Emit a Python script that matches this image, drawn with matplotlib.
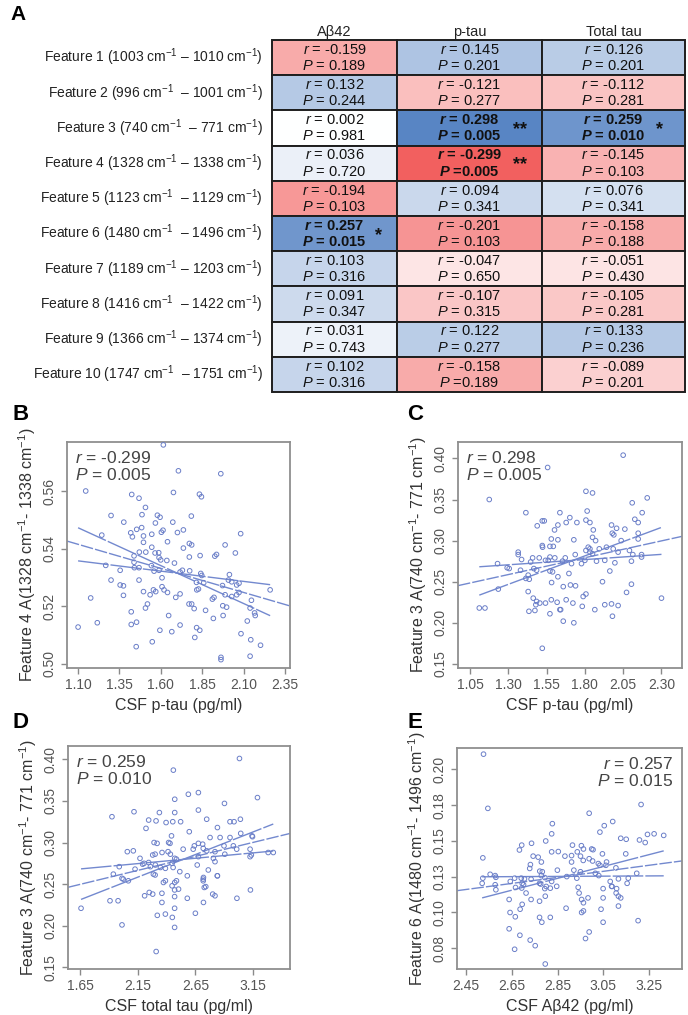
import numpy as np
import matplotlib.pyplot as plt
from matplotlib import font_manager
from matplotlib.colors import LinearSegmentedColormap, Normalize
from matplotlib.patches import Rectangle

plt.rcParams['font.family'] = ['Liberation Sans', 'DejaVu Sans']
plt.rcParams['mathtext.fontset'] = 'custom'
plt.rcParams['mathtext.rm'] = 'Liberation Sans'
plt.rcParams['mathtext.it'] = 'Liberation Sans:italic'
plt.rcParams['mathtext.bf'] = 'Liberation Sans:italic:bold'

names = {f.name for f in font_manager.fontManager.ttflist}
tab_font = 'Liberation Sans Narrow' if 'Liberation Sans Narrow' in names else 'Liberation Sans'

# ---------------- table data (panel A) ----------------
markers = ['Aβ42', 'p-tau', 'Total tau']
features = [
    'Feature 1 (1003 cm$^{-1}$ – 1010 cm$^{-1}$)',
    'Feature 2 (996 cm$^{-1}$  – 1001 cm$^{-1}$)',
    'Feature 3 (740 cm$^{-1}$  – 771 cm$^{-1}$)',
    'Feature 4 (1328 cm$^{-1}$ – 1338 cm$^{-1}$)',
    'Feature 5 (1123 cm$^{-1}$  – 1129 cm$^{-1}$)',
    'Feature 6 (1480 cm$^{-1}$  – 1496 cm$^{-1}$)',
    'Feature 7 (1189 cm$^{-1}$ – 1203 cm$^{-1}$)',
    'Feature 8 (1416 cm$^{-1}$  – 1422 cm$^{-1}$)',
    'Feature 9 (1366 cm$^{-1}$ – 1374 cm$^{-1}$)',
    'Feature 10 (1747 cm$^{-1}$  – 1751 cm$^{-1}$)',
]
r_vals = np.array([
    [-0.159, 0.145, 0.126],
    [0.132, -0.121, -0.112],
    [0.002, 0.298, 0.259],
    [0.036, -0.299, -0.145],
    [-0.194, 0.094, 0.076],
    [0.257, -0.201, -0.158],
    [0.103, -0.047, -0.051],
    [0.091, -0.107, -0.105],
    [0.031, 0.122, 0.133],
    [0.102, -0.158, -0.089],
])
p_text = [
    ['= 0.189', '= 0.201', '= 0.201'],
    ['= 0.244', '= 0.277', '= 0.281'],
    ['= 0.981', '= 0.005', '= 0.010'],
    ['= 0.720', '=0.005', '= 0.103'],
    ['= 0.103', '= 0.341', '= 0.341'],
    ['= 0.015', '= 0.103', '= 0.188'],
    ['= 0.316', '= 0.650', '= 0.430'],
    ['= 0.347', '= 0.315', '= 0.281'],
    ['= 0.743', '= 0.277', '= 0.236'],
    ['= 0.316', '=0.189', '= 0.201'],
]
stars = [
    ['', '', ''], ['', '', ''], ['', '**', '*'], ['', '**', ''], ['', '', ''],
    ['*', '', ''], ['', '', ''], ['', '', ''], ['', '', ''], ['', '', ''],
]

# ---------------- scatter data (panels B-E) ----------------
pts_b = np.array([
    [1.615, 0.576], [1.706, 0.567], [1.962, 0.566], [1.146, 0.560], [1.676, 0.5595],
    [1.424, 0.5588], [1.468, 0.5575], [1.833, 0.5589], [1.845, 0.5580], [1.507, 0.5543],
    [1.299, 0.5515], [1.486, 0.5518], [1.579, 0.5516], [1.595, 0.5509], [1.784, 0.5513],
    [1.376, 0.5492], [1.567, 0.5489], [1.672, 0.5492], [1.454, 0.5467], [1.484, 0.5473],
    [1.603, 0.5457], [1.613, 0.5464], [1.700, 0.5456], [1.736, 0.5465], [1.418, 0.5455],
    [1.428, 0.5441], [1.243, 0.5447], [1.495, 0.5444], [1.545, 0.5450], [2.082, 0.5452],
    [1.640, 0.5424], [1.495, 0.5422], [1.772, 0.5418], [1.786, 0.5413], [1.545, 0.5405],
    [1.736, 0.5402], [1.988, 0.5413], [1.470, 0.5388], [1.438, 0.5375], [1.509, 0.5388],
    [1.565, 0.5385], [1.587, 0.5386], [1.772, 0.5371], [1.837, 0.5376], [1.926, 0.5374],
    [1.936, 0.5380], [2.050, 0.5385], [1.636, 0.5359], [1.682, 0.5350], [1.589, 0.5369],
    [1.599, 0.5361], [1.438, 0.5353], [1.267, 0.5342], [1.543, 0.5341], [1.440, 0.5334],
    [1.468, 0.5334], [1.354, 0.5325], [1.559, 0.5322], [1.589, 0.5325], [1.716, 0.5319],
    [1.730, 0.5325], [1.774, 0.5323], [1.841, 0.5314], [1.847, 0.5307], [1.607, 0.5299],
    [2.014, 0.5310], [1.299, 0.5291], [1.468, 0.5291], [1.815, 0.5283], [1.859, 0.5282],
    [2.008, 0.5291], [2.028, 0.5285], [2.058, 0.5274], [2.072, 0.5280], [1.354, 0.5274],
    [1.374, 0.5271], [1.607, 0.5268], [1.619, 0.5257], [1.972, 0.5272], [2.260, 0.5257],
    [1.495, 0.5251], [1.555, 0.5257], [1.569, 0.5251], [1.640, 0.5248], [1.817, 0.5257],
    [1.827, 0.5260], [1.374, 0.5238], [1.535, 0.5240], [1.690, 0.5231], [1.716, 0.5243],
    [1.911, 0.5225], [1.921, 0.5231], [1.988, 0.5240], [2.028, 0.5234], [2.058, 0.5240],
    [2.072, 0.5248], [2.147, 0.5221], [1.176, 0.5229], [1.519, 0.5208], [1.770, 0.5208],
    [1.786, 0.5208], [1.974, 0.5202], [1.100, 0.5128], [1.216, 0.5143], [1.421, 0.5181],
    [1.421, 0.5137], [1.453, 0.5145], [1.507, 0.5194], [1.451, 0.5060], [1.548, 0.5077],
    [1.594, 0.5117], [1.647, 0.5168], [1.666, 0.5112], [1.716, 0.5135], [1.801, 0.5192],
    [1.805, 0.5092], [1.816, 0.5126], [1.835, 0.5117], [1.870, 0.5186], [1.917, 0.5158],
    [1.997, 0.5197], [1.976, 0.5168], [1.963, 0.5023], [1.963, 0.5015], [2.084, 0.5105],
    [2.122, 0.5149], [2.139, 0.5194], [2.166, 0.5177], [2.170, 0.5168], [2.143, 0.5084],
    [2.139, 0.5027], [2.202, 0.5065],
])
pts_c = np.array([
    [2.050, 0.404], [1.557, 0.389], [1.176, 0.350], [1.807, 0.360], [1.850, 0.358],
    [2.207, 0.352], [2.109, 0.346], [1.415, 0.334], [1.637, 0.334], [1.815, 0.336],
    [2.174, 0.334], [1.702, 0.328], [2.126, 0.326], [2.148, 0.322], [1.522, 0.324],
    [1.535, 0.324], [1.489, 0.318], [1.624, 0.319], [1.678, 0.322], [1.748, 0.322],
    [1.807, 0.325], [1.833, 0.322], [1.974, 0.319], [2.007, 0.315], [2.061, 0.314],
    [1.602, 0.313], [1.855, 0.313], [1.979, 0.309], [1.989, 0.307], [2.148, 0.309],
    [1.581, 0.302], [1.624, 0.301], [1.728, 0.301], [1.850, 0.304], [1.870, 0.300],
    [1.522, 0.294], [1.524, 0.292], [1.572, 0.293], [1.594, 0.293], [2.148, 0.302],
    [1.822, 0.292], [1.833, 0.290], [1.941, 0.292], [2.037, 0.300], [1.894, 0.290],
    [1.365, 0.286], [1.365, 0.283], [1.572, 0.280], [1.604, 0.279], [1.672, 0.279],
    [1.737, 0.283], [1.807, 0.288], [1.833, 0.286], [1.850, 0.284], [1.985, 0.290],
    [2.017, 0.286], [2.091, 0.288], [2.113, 0.283], [2.170, 0.283], [2.170, 0.280],
    [1.230, 0.272], [1.293, 0.267], [1.306, 0.266], [1.387, 0.277], [1.459, 0.279],
    [1.446, 0.274], [1.502, 0.279], [1.543, 0.276], [1.561, 0.276], [1.654, 0.275],
    [1.713, 0.272], [1.778, 0.272], [1.800, 0.276], [1.876, 0.275], [1.930, 0.276],
    [1.996, 0.273], [2.104, 0.275], [1.430, 0.258], [1.467, 0.266], [1.485, 0.264],
    [1.415, 0.254], [1.437, 0.253], [1.572, 0.263], [1.589, 0.262], [1.696, 0.260],
    [1.963, 0.263], [1.380, 0.264], [1.235, 0.241], [1.583, 0.249], [1.624, 0.256],
    [1.659, 0.244], [1.706, 0.246], [1.739, 0.245], [1.789, 0.232], [1.807, 0.235],
    [1.915, 0.250], [2.104, 0.247], [2.072, 0.237], [2.300, 0.230], [1.430, 0.238],
    [1.463, 0.230], [1.485, 0.226], [1.506, 0.224], [1.543, 0.224], [1.581, 0.228],
    [1.619, 0.225], [1.678, 0.228], [1.722, 0.224], [1.783, 0.220], [1.865, 0.216],
    [1.930, 0.222], [2.017, 0.221], [1.111, 0.218], [1.148, 0.218], [1.474, 0.215],
    [1.980, 0.208], [1.435, 0.214], [1.480, 0.222], [1.572, 0.211], [1.637, 0.216],
    [1.642, 0.216], [1.659, 0.202], [1.728, 0.200], [1.522, 0.169], [1.974, 0.223],
])
pts_d = np.array([
    [3.032, 0.401], [2.459, 0.387], [2.589, 0.358], [2.676, 0.360], [2.471, 0.352],
    [2.676, 0.339], [2.902, 0.347], [3.188, 0.354], [1.927, 0.331], [2.118, 0.337],
    [2.338, 0.336], [2.471, 0.336], [2.245, 0.327], [2.309, 0.326], [2.396, 0.324],
    [2.454, 0.325], [2.522, 0.325], [2.222, 0.317], [2.748, 0.328], [2.841, 0.318],
    [2.950, 0.325], [2.985, 0.325], [3.040, 0.328], [2.597, 0.313], [2.443, 0.308],
    [2.292, 0.300], [2.318, 0.299], [2.418, 0.300], [2.430, 0.299], [2.676, 0.299],
    [2.713, 0.298], [2.641, 0.296], [2.777, 0.306], [2.864, 0.306], [2.950, 0.306],
    [2.898, 0.296], [3.043, 0.311], [3.141, 0.308], [3.145, 0.307], [2.060, 0.289],
    [2.112, 0.290], [2.170, 0.281], [2.280, 0.285], [2.301, 0.286], [2.361, 0.288],
    [2.413, 0.289], [2.433, 0.286], [2.471, 0.281], [2.486, 0.280], [2.544, 0.292],
    [2.631, 0.292], [2.718, 0.293], [2.748, 0.290], [2.820, 0.289], [2.806, 0.281],
    [2.820, 0.277], [2.905, 0.286], [2.979, 0.296], [3.008, 0.292], [3.124, 0.292],
    [3.135, 0.285], [3.281, 0.288], [3.325, 0.288], [3.124, 0.283], [1.990, 0.271],
    [2.127, 0.268], [2.193, 0.274], [2.205, 0.275], [2.245, 0.276], [2.260, 0.271],
    [2.303, 0.273], [2.347, 0.270], [2.390, 0.269], [2.448, 0.275], [2.457, 0.270],
    [2.515, 0.265], [2.666, 0.273], [2.762, 0.267], [2.676, 0.283], [2.069, 0.254],
    [2.025, 0.256], [1.939, 0.262], [2.286, 0.262], [2.301, 0.261], [2.373, 0.252],
    [2.390, 0.254], [2.471, 0.252], [2.486, 0.254], [2.718, 0.254], [2.718, 0.256],
    [2.841, 0.260], [2.448, 0.248], [2.504, 0.244], [2.727, 0.246], [3.127, 0.243],
    [1.659, 0.221], [1.910, 0.230], [1.980, 0.230], [2.014, 0.257], [2.014, 0.201],
    [2.210, 0.236], [2.250, 0.240], [2.280, 0.238], [2.360, 0.228], [2.360, 0.239],
    [2.320, 0.2125], [2.310, 0.169], [2.390, 0.214], [2.470, 0.243], [2.450, 0.210],
    [2.470, 0.235], [2.470, 0.221], [2.470, 0.198], [2.580, 0.260], [2.580, 0.233],
    [2.650, 0.215], [2.720, 0.228], [2.720, 0.258], [2.740, 0.247], [2.800, 0.238],
    [2.820, 0.236], [2.840, 0.260], [3.010, 0.233],
])
pts_e = np.array([
    [2.526, 0.2107], [2.545, 0.1728], [2.523, 0.1382], [2.988, 0.1694], [3.215, 0.1755],
    [3.091, 0.1636], [3.054, 0.1607], [3.035, 0.1562], [2.827, 0.1621], [2.824, 0.1550],
    [3.126, 0.1519], [3.150, 0.1512], [3.208, 0.1507], [3.233, 0.1489], [3.243, 0.1546],
    [3.272, 0.1550], [3.314, 0.1539], [2.736, 0.1484], [2.693, 0.1471], [2.683, 0.1437],
    [2.798, 0.1500], [2.915, 0.1471], [2.954, 0.1467], [2.963, 0.1444], [2.999, 0.1444],
    [3.005, 0.1439], [2.853, 0.1426], [2.824, 0.1424], [2.936, 0.1424], [3.046, 0.1410],
    [3.148, 0.1410], [2.743, 0.1394], [2.765, 0.1387], [2.882, 0.1394], [2.911, 0.1398],
    [2.950, 0.1394], [2.962, 0.1364], [2.779, 0.1353], [2.731, 0.1335], [2.911, 0.1353],
    [2.988, 0.1376], [3.003, 0.1360], [3.028, 0.1342], [3.035, 0.1330], [3.064, 0.1353],
    [3.061, 0.1330], [3.105, 0.1312], [2.728, 0.1308], [2.523, 0.1240], [2.555, 0.1267],
    [2.577, 0.1258], [2.580, 0.1246], [2.772, 0.1289], [2.783, 0.1285], [2.849, 0.1296],
    [2.921, 0.1296], [2.950, 0.1285], [3.015, 0.1274], [3.030, 0.1258], [3.196, 0.1274],
    [2.662, 0.1240], [2.691, 0.1240], [2.705, 0.1235], [2.734, 0.1233], [2.779, 0.1258],
    [2.794, 0.1244], [2.824, 0.1217], [2.890, 0.1251], [2.934, 0.1240], [3.080, 0.1217],
    [3.116, 0.1235], [3.159, 0.1240], [2.577, 0.1194], [2.643, 0.1217], [2.693, 0.1171],
    [2.701, 0.1194], [2.776, 0.1199], [2.794, 0.1167], [2.846, 0.1183], [2.940, 0.1176],
    [3.049, 0.1167], [3.086, 0.1183], [3.108, 0.1167], [2.520, 0.1204], [2.580, 0.1159],
    [2.638, 0.1091], [2.642, 0.1000], [2.665, 0.0970], [2.638, 0.0886], [2.685, 0.0841],
    [2.662, 0.0743], [2.730, 0.0807], [2.752, 0.0768], [2.695, 0.1057], [2.686, 0.1023],
    [2.712, 0.1136], [2.734, 0.1091], [2.666, 0.1175], [2.695, 0.1204], [2.771, 0.1204],
    [2.800, 0.1182], [2.818, 0.1170], [2.771, 0.1079], [2.771, 0.0966], [2.781, 0.0932],
    [2.796, 0.1114], [2.818, 0.0966], [2.796, 0.0640], [2.887, 0.1030], [2.944, 0.1136],
    [2.955, 0.1091], [2.963, 0.1068], [2.963, 0.1011], [2.955, 0.1000], [2.983, 0.1102],
    [2.988, 0.0864], [2.972, 0.0818], [3.040, 0.1023], [3.049, 0.1102], [3.088, 0.1182],
    [3.106, 0.1136], [3.049, 0.0932], [3.116, 0.1114], [3.126, 0.1102], [3.116, 0.1045],
    [3.154, 0.1204], [3.202, 0.0943],
])

panels = [
    dict(pts=pts_b, letter='B', xlabel='CSF p-tau (pg/ml)',
         ylabel='Feature 4 A(1328 cm$^{-1}$- 1338 cm$^{-1}$)',
         stat='$\\mathit{r}$ = -0.299\n$\\mathit{P}$ = 0.005', right=False,
         xlim=(1.033, 2.38), ylim=(0.4986, 0.577),
         xticks=[1.10, 1.35, 1.60, 1.85, 2.10, 2.35], yticks=[0.50, 0.52, 0.54, 0.56],
         ytl=['0.50', '0.52', '0.54', '0.56']),
    dict(pts=pts_c, letter='C', xlabel='CSF p-tau (pg/ml)',
         ylabel='Feature 3 A(740 cm$^{-1}$- 771 cm$^{-1}$)',
         stat='$\\mathit{r}$ = 0.298\n$\\mathit{P}$ = 0.005', right=False,
         xlim=(0.972, 2.434), ylim=(0.145, 0.42),
         xticks=[1.05, 1.30, 1.55, 1.80, 2.05, 2.30], yticks=[0.15, 0.20, 0.25, 0.30, 0.35, 0.40],
         ytl=['0.15', '0.20', '0.25', '0.30', '0.35', '0.40']),
    dict(pts=pts_d, letter='D', xlabel='CSF total tau (pg/ml)',
         ylabel='Feature 3 A(740 cm$^{-1}$- 771 cm$^{-1}$)',
         stat='$\\mathit{r}$ = 0.259\n$\\mathit{P}$ = 0.010', right=False,
         xlim=(1.546, 3.47), ylim=(0.148, 0.416),
         xticks=[1.65, 2.15, 2.65, 3.15], yticks=[0.15, 0.20, 0.25, 0.30, 0.35, 0.40],
         ytl=['0.15', '0.20', '0.25', '0.30', '0.35', '0.40']),
    dict(pts=pts_e, letter='E', xlabel='CSF Aβ42 (pg/ml)',
         ylabel='Feature 6 A(1480 cm$^{-1}$- 1496 cm$^{-1}$)',
         stat='$\\mathit{r}$ = 0.257\n$\\mathit{P}$ = 0.015', right=True,
         xlim=(2.41, 3.394), ylim=(0.0605, 0.215),
         xticks=[2.45, 2.65, 2.85, 3.05, 3.25], yticks=[0.075, 0.10, 0.125, 0.15, 0.175, 0.20],
         ytl=['0.08', '0.10', '0.13', '0.15', '0.18', '0.20']),
]

W, H = 688, 1015
fig = plt.figure(figsize=(W / 100, H / 100), dpi=100)


def px_axes(x0, y0, x1, y1):
    return fig.add_axes([x0 / W, 1 - y1 / H, (x1 - x0) / W, (y1 - y0) / H])


# ---------------- panel A: table ----------------
cmap = LinearSegmentedColormap.from_list('rb', ['#f2605f', '#ffffff', '#5885c4'])
norm = Normalize(-0.3, 0.3)
col_edges = [0, 125, 270, 413]
star_frac = [0.85, 0.85, 0.82]

ax = px_axes(272, 40, 685, 392)
ax.set_xlim(0, 413)
ax.set_ylim(len(features), 0)
ax.axis('off')
for i in range(len(features)):
    ax.text(-9, i + 0.5, features[i], ha='right', va='center', fontsize=10,
            family=tab_font, color='#222')
    for j in range(len(markers)):
        x0, x1 = col_edges[j], col_edges[j + 1]
        ax.add_patch(Rectangle((x0, i), x1 - x0, 1, facecolor=cmap(norm(r_vals[i, j])),
                               edgecolor='#1e1e1e', lw=1.4, clip_on=False))
        bold = stars[i][j] != ''
        sym_r = '$\\mathbf{r}$' if bold else '$\\mathit{r}$'
        sym_p = '$\\mathbf{P}$' if bold else '$\\mathit{P}$'
        xc = (x0 + x1) / 2
        ax.text(xc, i + 0.28, f'{sym_r} = {r_vals[i, j]:.3f}', ha='center', va='center',
                fontsize=10.5, family=tab_font, fontweight='bold' if bold else 'normal',
                color='#111')
        ax.text(xc, i + 0.74, f'{sym_p} {p_text[i][j]}', ha='center', va='center',
                fontsize=10.5, family=tab_font, fontweight='bold' if bold else 'normal',
                color='#111')
        if bold:
            ax.text(x0 + (x1 - x0) * star_frac[j], i + 0.55, stars[i][j], ha='center',
                    va='center', fontsize=13, fontweight='bold', color='#111')
for j, m in enumerate(markers):
    ax.text((col_edges[j] + col_edges[j + 1]) / 2, -0.24, m, ha='center', va='center',
            fontsize=10.5, family=tab_font, color='#222')

fig.text(10 / W, 1 - 15 / H, 'A', fontsize=15, fontweight='bold', va='center')

# ---------------- panels B-E: scatter with fit ----------------
boxes = [(67, 442, 290, 668), (458, 442, 682, 668), (68, 746, 290, 969), (457, 748, 682, 969)]
letters_pos = [(12, 415), (407, 415), (12, 722), (407, 722)]
dot_col = '#6a7ec8'
line_col = '#7389cf'

for p, box, lp in zip(panels, boxes, letters_pos):
    ax = px_axes(*box)
    x, y = p['pts'][:, 0], p['pts'][:, 1]
    ax.scatter(x, y, s=11, facecolors='none', edgecolors=dot_col, linewidths=0.7, zorder=3)

    b, a = np.polyfit(x, y, 1)
    n = len(x)
    xm, ym = x.mean(), y.mean()
    resid = y - (a + b * x)
    se_b = np.sqrt(resid @ resid / (n - 2) / np.sum((x - xm) ** 2))
    xx = np.array(p['xlim'])
    ax.plot(xx, a + b * xx, color=line_col, lw=1.0, dashes=(9, 1.5), zorder=2)
    xs = np.array([x.min(), x.max()])
    for s in (b - 1.98 * se_b, b + 1.98 * se_b):
        ax.plot(xs, ym + s * (xs - xm), color=line_col, lw=1.0, dashes=(22, 1.5), zorder=2)

    ax.set_xlim(p['xlim'])
    ax.set_ylim(p['ylim'])
    ax.set_xticks(p['xticks'])
    ax.set_xticklabels([f'{t:.2f}' for t in p['xticks']])
    ax.set_yticks(p['yticks'])
    ax.set_yticklabels(p['ytl'], rotation=90, va='center')
    ax.tick_params(colors='#8a8a8a', labelcolor='#555555', labelsize=10, length=4, width=1)
    for sp in ax.spines.values():
        sp.set_color('#8f8f8f')
        sp.set_linewidth(1.3)
    ax.set_xlabel(p['xlabel'], fontsize=11.5, color='#333333', labelpad=4)
    ax.set_ylabel(p['ylabel'], fontsize=11.5, color='#333333', labelpad=3)
    if p['right']:
        ax.text(0.96, 0.965, p['stat'], transform=ax.transAxes, ha='right', va='top',
                fontsize=12.5, color='#444444', linespacing=1.1)
    else:
        ax.text(0.035, 0.965, p['stat'], transform=ax.transAxes, ha='left', va='top',
                fontsize=12.5, color='#444444', linespacing=1.1)
    fig.text(lp[0] / W, 1 - lp[1] / H, p['letter'], fontsize=16, fontweight='bold',
             va='center')

fig.savefig('out.png', dpi=100, facecolor='white')
